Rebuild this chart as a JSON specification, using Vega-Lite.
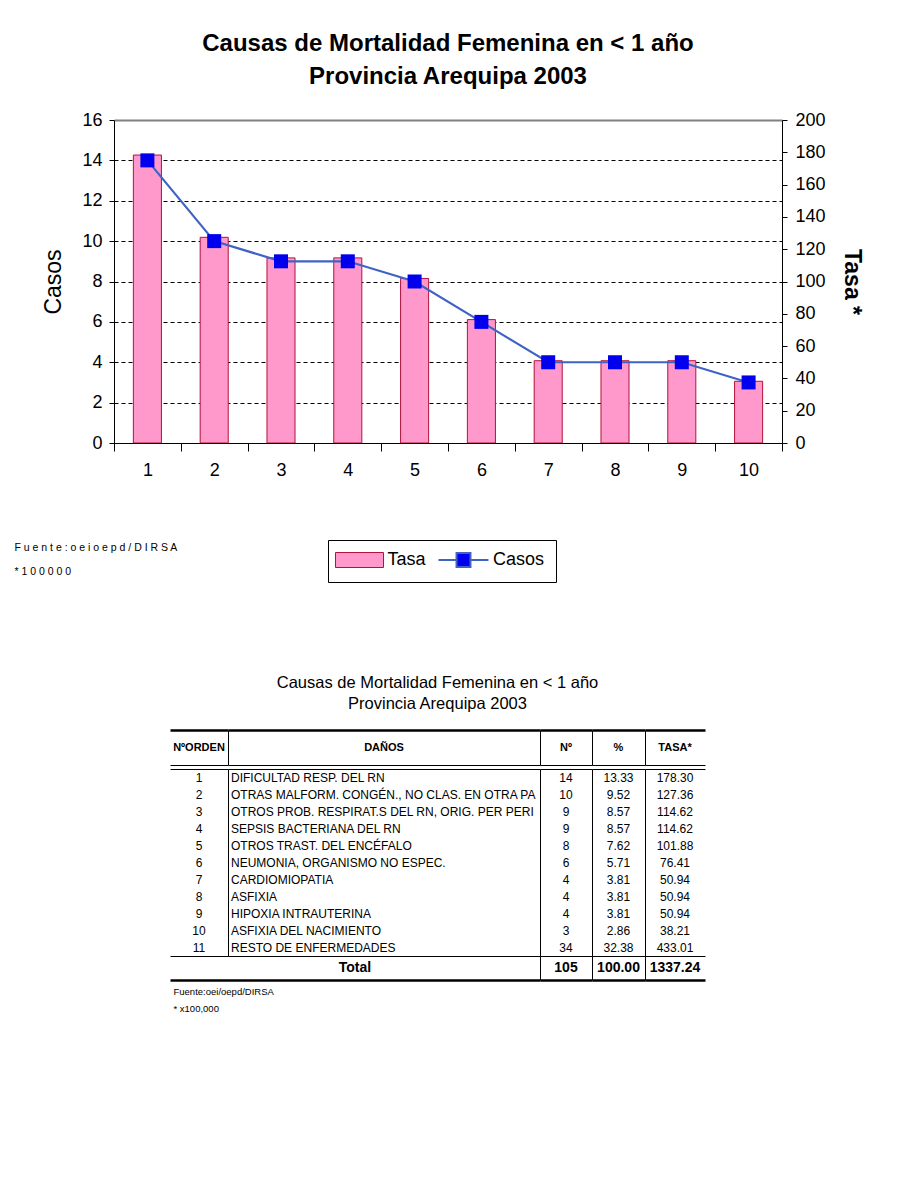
{
  "$schema": "https://vega.github.io/schema/vega-lite/v6.json",
  "background": "white",
  "padding": {"left": 14, "top": 32, "right": 5, "bottom": 5},
  "config": {
    "view": {"stroke": null},
    "font": "Liberation Sans",
    "axis": {"labelColor": "black", "titleColor": "black", "domainColor": "black", "tickColor": "black", "labelFont": "Liberation Sans", "titleFont": "Liberation Sans"},
    "title": {"color": "black", "font": "Liberation Sans"}
  },
  "datasets": {
    "causas": [
      {"orden": 1, "dano": "DIFICULTAD RESP. DEL RN", "n": 14, "pct": 13.33, "tasa": 178.30},
      {"orden": 2, "dano": "OTRAS MALFORM. CONGÉN., NO CLAS. EN OTRA PARTE", "n": 10, "pct": 9.52, "tasa": 127.36},
      {"orden": 3, "dano": "OTROS PROB. RESPIRAT.S DEL RN, ORIG. PER PERINATAL", "n": 9, "pct": 8.57, "tasa": 114.62},
      {"orden": 4, "dano": "SEPSIS BACTERIANA DEL RN", "n": 9, "pct": 8.57, "tasa": 114.62},
      {"orden": 5, "dano": "OTROS TRAST. DEL ENCÉFALO", "n": 8, "pct": 7.62, "tasa": 101.88},
      {"orden": 6, "dano": "NEUMONIA, ORGANISMO NO ESPEC.", "n": 6, "pct": 5.71, "tasa": 76.41},
      {"orden": 7, "dano": "CARDIOMIOPATIA", "n": 4, "pct": 3.81, "tasa": 50.94},
      {"orden": 8, "dano": "ASFIXIA", "n": 4, "pct": 3.81, "tasa": 50.94},
      {"orden": 9, "dano": "HIPOXIA INTRAUTERINA", "n": 4, "pct": 3.81, "tasa": 50.94},
      {"orden": 10, "dano": "ASFIXIA DEL NACIMIENTO", "n": 3, "pct": 2.86, "tasa": 38.21},
      {"orden": 11, "dano": "RESTO DE ENFERMEDADES", "n": 34, "pct": 32.38, "tasa": 433.01}
    ],
    "total": [{"etiqueta": "Total", "n": 105, "pct": 100.00, "tasa": 1337.24}]
  },
  "columns": 1,
  "spacing": 97,
  "concat": [
    {
      "width": 668,
      "height": 323,
      "title": {"text": ["Causas de Mortalidad Femenina en < 1 año", "Provincia Arequipa 2003"], "fontSize": 24, "fontWeight": "bold", "lineHeight": 33, "anchor": "middle", "frame": "group", "offset": 22},
      "data": {"name": "causas"},
      "transform": [{"filter": "datum.orden <= 10"}],
      "encoding": {
        "x": {
          "field": "orden", "type": "ordinal",
          "scale": {"paddingInner": 0, "paddingOuter": 0},
          "axis": {
            "labelAngle": 0, "labelFontSize": 18, "labelPadding": 10, "tickSize": 8, "tickBand": "extent", "grid": false, "zindex": 1,
            "title": ["F u e n t e : o e i o e p d / D I R S A", "* 1 0 0 0 0 0"],
            "titleFontSize": 10.5, "titleFontWeight": "normal", "titleX": -100, "titleY": 99, "titleAlign": "left", "titleBaseline": "top", "titleLineHeight": 24
          }
        }
      },
      "layer": [
        {
          "mark": {"type": "bar", "width": {"band": 0.42}, "stroke": "#B3123A", "strokeWidth": 1},
          "encoding": {
            "y": {
              "field": "tasa", "type": "quantitative",
              "scale": {"domain": [0, 200], "nice": false},
              "axis": {"orient": "right", "title": "Tasa *", "values": [0, 20, 40, 60, 80, 100, 120, 140, 160, 180, 200], "grid": false, "tickSize": 5, "labelFontSize": 18, "labelPadding": 8, "titleFontSize": 23, "titleFontWeight": "bold", "titlePadding": 14, "zindex": 1}
            },
            "fill": {
              "datum": "Tasa", "type": "nominal",
              "scale": {"domain": ["Tasa"], "range": ["#FF99CC"]},
              "legend": {
                "title": null, "orient": "none", "legendX": 214, "legendY": 420, "direction": "horizontal",
                "strokeColor": null, "fillColor": null, "padding": 11,
                "labelFontSize": 18, "labelFont": "Liberation Sans", "labelColor": "black",
                "symbolType": "M-3.2,-1H3.2V1H-3.2Z", "symbolSize": 225, "symbolOffset": 11.5, "labelOffset": 19,
                "symbolStrokeColor": "#B3123A", "symbolStrokeWidth": 1, "symbolOpacity": 1
              }
            }
          }
        },
        {
          "encoding": {
            "y": {
              "field": "n", "type": "quantitative",
              "scale": {"domain": [0, 16], "nice": false},
              "axis": {
                "orient": "left", "title": "Casos", "values": [0, 2, 4, 6, 8, 10, 12, 14, 16], "format": "d",
                "grid": true,
                "gridColor": {"condition": {"test": "datum.value === 16", "value": "#808080"}, "value": "black"},
                "gridDash": {"condition": {"test": "datum.value === 16", "value": []}, "value": [4, 3]},
                "gridWidth": {"condition": {"test": "datum.value === 16", "value": 2}, "value": 1},
                "gridOpacity": 1, "tickSize": 5, "labelFontSize": 18, "labelPadding": 7,
                "titleFontSize": 23, "titleFontWeight": "normal", "titlePadding": 16, "zindex": 0
              }
            }
          },
          "layer": [
            {"mark": {"type": "line", "color": "#3F63C4", "strokeWidth": 2.2}},
            {"mark": {"type": "point", "shape": "square", "filled": true, "size": 196, "opacity": 1, "color": "#0000EE"}},
            {
              "transform": [{"filter": "datum.orden > 100"}],
              "mark": {"type": "point", "shape": "square", "filled": true, "stroke": "#3F63C4", "strokeWidth": 2},
              "encoding": {
                "color": {
                  "datum": "Casos", "type": "nominal",
                  "scale": {"domain": ["Casos"], "range": ["#0000EE"]},
                  "legend": {
                    "title": null, "orient": "none", "legendX": 214, "legendY": 420, "direction": "horizontal",
                    "strokeColor": "black", "fillColor": null, "padding": 11,
                    "labelFontSize": 18, "labelFont": "Liberation Sans", "labelColor": "black",
                    "symbolType": "M-3.33,0H-0.93M0.93,0H3.33M-0.93,-0.93H0.93V0.93H-0.93Z", "symbolSize": 225, "symbolOffset": 115.5, "labelOffset": 20.5,
                    "symbolStrokeColor": "#3F63C4", "symbolStrokeWidth": 2, "symbolOpacity": 1, "symbolFillColor": "#0000EE"
                  }
                }
              }
            }
          ]
        }
      ],
      "resolve": {"scale": {"y": "independent"}}
    },
    {
      "title": {"text": ["Causas de Mortalidad Femenina en < 1 año", "Provincia Arequipa 2003"], "fontSize": 16.5, "fontWeight": "normal", "lineHeight": 21, "anchor": "middle", "offset": 18, "dx": 28},
      "spacing": 4,
      "vconcat": [
        {
          "spacing": 0,
          "hconcat": [
            {"width": 56, "height": 35, "data": {"values": [{"col": ""}]}, "mark": {"type": "text"}, "encoding": {"text": {"field": "col", "type": "nominal"}}},
            {"width": 58, "height": 35, "data": {"values": [{"col": "NºORDEN"}]}, "mark": {"type": "text", "fontSize": 11, "fontWeight": "bold", "color": "black"},
             "encoding": {"text": {"field": "col", "type": "nominal"}, "y": {"datum": 0.5, "type": "quantitative", "scale": {"domain": [0, 1], "nice": false, "zero": false}, "axis": {"values": [0, 1], "grid": true, "gridColor": "black", "gridOpacity": 1, "gridWidth": {"condition": {"test": "datum.value === 1", "value": 2.5}, "value": 1}, "labels": false, "ticks": false, "domain": false, "title": null, "minExtent": 0}}}},
            {"width": 312, "height": 35, "data": {"values": [{"col": "DAÑOS"}]}, "mark": {"type": "text", "fontSize": 11, "fontWeight": "bold", "color": "black"},
             "encoding": {"text": {"field": "col", "type": "nominal"}, "y": {"datum": 0.5, "type": "quantitative", "scale": {"domain": [0, 1], "nice": false, "zero": false}, "axis": {"values": [0, 1], "grid": true, "gridColor": "black", "gridOpacity": 1, "gridWidth": {"condition": {"test": "datum.value === 1", "value": 2.5}, "value": 1}, "labels": false, "ticks": false, "domain": true, "domainWidth": 1, "title": null, "minExtent": 0}}}},
            {"width": 52, "height": 35, "data": {"values": [{"col": "Nº"}]}, "mark": {"type": "text", "fontSize": 11, "fontWeight": "bold", "color": "black"},
             "encoding": {"text": {"field": "col", "type": "nominal"}, "y": {"datum": 0.5, "type": "quantitative", "scale": {"domain": [0, 1], "nice": false, "zero": false}, "axis": {"values": [0, 1], "grid": true, "gridColor": "black", "gridOpacity": 1, "gridWidth": {"condition": {"test": "datum.value === 1", "value": 2.5}, "value": 1}, "labels": false, "ticks": false, "domain": true, "domainWidth": 1, "title": null, "minExtent": 0}}}},
            {"width": 53, "height": 35, "data": {"values": [{"col": "%"}]}, "mark": {"type": "text", "fontSize": 11, "fontWeight": "bold", "color": "black"},
             "encoding": {"text": {"field": "col", "type": "nominal"}, "y": {"datum": 0.5, "type": "quantitative", "scale": {"domain": [0, 1], "nice": false, "zero": false}, "axis": {"values": [0, 1], "grid": true, "gridColor": "black", "gridOpacity": 1, "gridWidth": {"condition": {"test": "datum.value === 1", "value": 2.5}, "value": 1}, "labels": false, "ticks": false, "domain": true, "domainWidth": 1, "title": null, "minExtent": 0}}}},
            {"width": 60, "height": 35, "data": {"values": [{"col": "TASA*"}]}, "mark": {"type": "text", "fontSize": 11, "fontWeight": "bold", "color": "black"},
             "encoding": {"text": {"field": "col", "type": "nominal"}, "y": {"datum": 0.5, "type": "quantitative", "scale": {"domain": [0, 1], "nice": false, "zero": false}, "axis": {"values": [0, 1], "grid": true, "gridColor": "black", "gridOpacity": 1, "gridWidth": {"condition": {"test": "datum.value === 1", "value": 2.5}, "value": 1}, "labels": false, "ticks": false, "domain": true, "domainWidth": 1, "title": null, "minExtent": 0}}}}
          ]
        },
        {
          "spacing": 0,
          "vconcat": [
            {
              "spacing": 0,
              "hconcat": [
                {"width": 56, "height": 187, "data": {"values": [{"col": ""}]}, "mark": {"type": "text"}, "encoding": {"text": {"field": "col", "type": "nominal"}}},
                {"width": 58, "height": 187, "data": {"name": "causas"}, "mark": {"type": "text", "fontSize": 12, "color": "black"},
                 "encoding": {"text": {"field": "orden", "type": "quantitative", "format": "d"}, "y": {"field": "orden", "type": "quantitative", "scale": {"domain": [0.5, 11.5], "reverse": true, "nice": false, "zero": false}, "axis": {"values": [0.5, 11.5], "grid": true, "gridColor": "black", "gridOpacity": 1, "gridWidth": 1, "labels": false, "ticks": false, "domain": false, "title": null, "minExtent": 0}}}},
                {"width": 312, "height": 187, "data": {"name": "causas"}, "mark": {"type": "text", "fontSize": 12, "color": "black", "align": "left", "dx": 3, "limit": 310, "ellipsis": " "},
                 "encoding": {"text": {"field": "dano", "type": "nominal"}, "x": {"datum": 0, "type": "quantitative", "scale": {"domain": [0, 1], "nice": false, "zero": false}, "axis": null}, "y": {"field": "orden", "type": "quantitative", "scale": {"domain": [0.5, 11.5], "reverse": true, "nice": false, "zero": false}, "axis": {"values": [0.5, 11.5], "grid": true, "gridColor": "black", "gridOpacity": 1, "gridWidth": 1, "labels": false, "ticks": false, "domain": true, "domainWidth": 1, "title": null, "minExtent": 0}}}},
                {"width": 52, "height": 187, "data": {"name": "causas"}, "mark": {"type": "text", "fontSize": 12, "color": "black"},
                 "encoding": {"text": {"field": "n", "type": "quantitative", "format": "d"}, "y": {"field": "orden", "type": "quantitative", "scale": {"domain": [0.5, 11.5], "reverse": true, "nice": false, "zero": false}, "axis": {"values": [0.5, 11.5], "grid": true, "gridColor": "black", "gridOpacity": 1, "gridWidth": 1, "labels": false, "ticks": false, "domain": true, "domainWidth": 1, "title": null, "minExtent": 0}}}},
                {"width": 53, "height": 187, "data": {"name": "causas"}, "mark": {"type": "text", "fontSize": 12, "color": "black"},
                 "encoding": {"text": {"field": "pct", "type": "quantitative", "format": ".2f"}, "y": {"field": "orden", "type": "quantitative", "scale": {"domain": [0.5, 11.5], "reverse": true, "nice": false, "zero": false}, "axis": {"values": [0.5, 11.5], "grid": true, "gridColor": "black", "gridOpacity": 1, "gridWidth": 1, "labels": false, "ticks": false, "domain": true, "domainWidth": 1, "title": null, "minExtent": 0}}}},
                {"width": 60, "height": 187, "data": {"name": "causas"}, "mark": {"type": "text", "fontSize": 12, "color": "black"},
                 "encoding": {"text": {"field": "tasa", "type": "quantitative", "format": ".2f"}, "y": {"field": "orden", "type": "quantitative", "scale": {"domain": [0.5, 11.5], "reverse": true, "nice": false, "zero": false}, "axis": {"values": [0.5, 11.5], "grid": true, "gridColor": "black", "gridOpacity": 1, "gridWidth": 1, "labels": false, "ticks": false, "domain": true, "domainWidth": 1, "title": null, "minExtent": 0}}}}
              ]
            },
            {
              "spacing": 0,
              "hconcat": [
                {"width": 56, "height": 24, "data": {"values": [{"col": ""}]}, "mark": {"type": "text"}, "encoding": {"text": {"field": "col", "type": "nominal"}}},
                {"width": 370, "height": 24, "data": {"name": "total"}, "mark": {"type": "text", "fontSize": 14, "fontWeight": "bold", "color": "black"},
                 "encoding": {"text": {"field": "etiqueta", "type": "nominal"},
                   "x": {"datum": 0.5, "type": "quantitative", "scale": {"domain": [0, 1], "nice": false, "zero": false}, "axis": {"orient": "bottom", "domain": false, "ticks": false, "labels": false, "grid": false, "title": ["Fuente:oei/oepd/DIRSA", "* x100,000"], "titleFontSize": 9.5, "titleFontWeight": "normal", "titleX": 3, "titleY": 6, "titleAlign": "left", "titleBaseline": "top", "titleLineHeight": 17, "minExtent": 0}},
                   "y": {"datum": 0.5, "type": "quantitative", "scale": {"domain": [0, 1], "nice": false, "zero": false}, "axis": {"values": [0], "grid": true, "gridColor": "black", "gridOpacity": 1, "gridWidth": 2.5, "labels": false, "ticks": false, "domain": false, "title": null, "minExtent": 0}}}},
                {"width": 52, "height": 24, "data": {"name": "total"}, "mark": {"type": "text", "fontSize": 14, "fontWeight": "bold", "color": "black"},
                 "encoding": {"text": {"field": "n", "type": "quantitative", "format": "d"}, "y": {"datum": 0.5, "type": "quantitative", "scale": {"domain": [0, 1], "nice": false, "zero": false}, "axis": {"values": [0], "grid": true, "gridColor": "black", "gridOpacity": 1, "gridWidth": 2.5, "labels": false, "ticks": false, "domain": true, "domainWidth": 1, "title": null, "minExtent": 0}}}},
                {"width": 53, "height": 24, "data": {"name": "total"}, "mark": {"type": "text", "fontSize": 14, "fontWeight": "bold", "color": "black"},
                 "encoding": {"text": {"field": "pct", "type": "quantitative", "format": ".2f"}, "y": {"datum": 0.5, "type": "quantitative", "scale": {"domain": [0, 1], "nice": false, "zero": false}, "axis": {"values": [0], "grid": true, "gridColor": "black", "gridOpacity": 1, "gridWidth": 2.5, "labels": false, "ticks": false, "domain": true, "domainWidth": 1, "title": null, "minExtent": 0}}}},
                {"width": 60, "height": 24, "data": {"name": "total"}, "mark": {"type": "text", "fontSize": 14, "fontWeight": "bold", "color": "black"},
                 "encoding": {"text": {"field": "tasa", "type": "quantitative", "format": ".2f"}, "y": {"datum": 0.5, "type": "quantitative", "scale": {"domain": [0, 1], "nice": false, "zero": false}, "axis": {"values": [0], "grid": true, "gridColor": "black", "gridOpacity": 1, "gridWidth": 2.5, "labels": false, "ticks": false, "domain": true, "domainWidth": 1, "title": null, "minExtent": 0}}}}
              ]
            }
          ]
        }
      ]
    }
  ]
}
